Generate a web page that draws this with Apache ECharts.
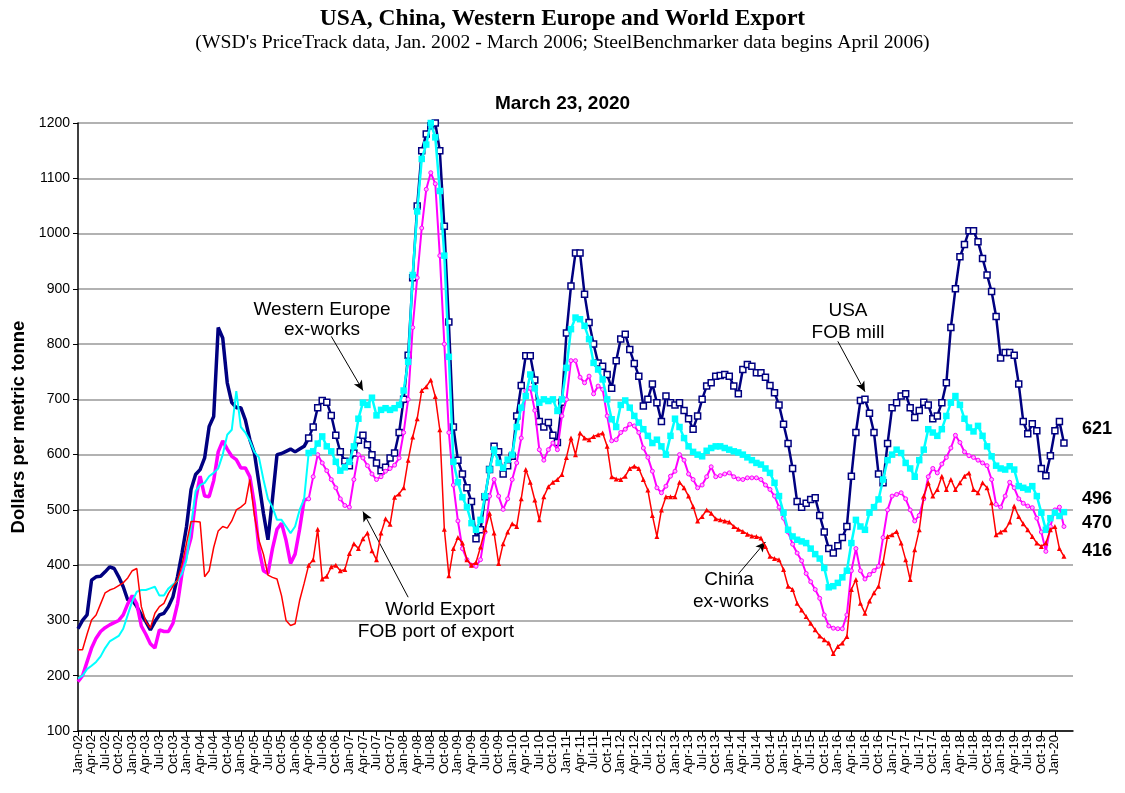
<!DOCTYPE html>
<html>
<head>
<meta charset="utf-8">
<script src="https://cdn.jsdelivr.net/npm/echarts@6/dist/echarts.min.js"></script>
<style>
html, body { margin: 0; padding: 0; background: #fff; }
#main { width: 1125px; height: 793px; }
</style>
</head>
<body>
<div id="main"></div>
<script>
// monthly prices, Jan-02 .. Mar-20 (US$ per metric tonne)
var monthNames = ['Jan','Feb','Mar','Apr','May','Jun','Jul','Aug','Sep','Oct','Nov','Dec'];
var firstYear = 2002;
var lastYear = 2020;
var lastMonth = 3;          // data ends March 2020
var steelBenchmarkerStart = 51;  // Apr-06, index where the marked series begin

var usa = [
  285, 300, 310, 373, 379, 380, 388, 397, 394, 379, 361, 337,
  337, 325, 310, 298, 283, 298, 310, 313, 325, 343, 379, 422,
  470, 537, 564, 573, 594, 651, 669, 830, 811, 730, 694, 685,
  685, 663, 627, 603, 549, 494, 446, 520, 600, 602, 606, 610,
  605, 610, 615, 630, 650, 685, 698, 695, 671, 635, 605, 588,
  580, 603, 626, 635, 618, 600, 585, 571, 577, 594, 603, 640,
  700, 780, 920, 1050, 1150, 1180, 1195, 1200, 1150, 1013, 840, 650,
  590, 565, 540, 515, 448, 464, 524, 573, 615, 605, 565, 580,
  597, 670, 725, 779, 779, 735, 660, 650, 658, 635, 622, 695,
  820, 905, 965, 965, 890, 839, 800, 766, 760, 745, 720, 770,
  809, 818, 790, 765, 742, 688, 700, 728, 694, 660, 706, 694,
  690, 694, 680, 665, 646, 670, 700, 724, 730, 742, 743, 745,
  742, 724, 710, 754, 763, 760, 748, 748, 740, 725, 712, 690,
  655, 620, 575, 515, 505, 512, 519, 522, 490, 460, 430, 422,
  435, 450, 470, 561, 640, 698, 700, 675, 640, 565, 549, 620,
  685, 694, 706, 710, 685, 667, 680, 695, 690, 665, 670, 694,
  730, 830, 900, 958, 980, 1005, 1005, 985, 955, 925, 895, 850,
  775, 785, 785, 780, 728, 660, 638, 656, 643, 575, 562, 598,
  643, 660, 621
];

var westernEurope = [
  195, 200, 212, 218, 225, 235, 250, 262, 267, 272, 285, 310,
  335, 352, 355, 355, 358, 361, 345, 345, 358, 365, 372, 385,
  410, 470, 534, 545, 549, 561, 567, 575, 600, 636, 645, 715,
  650, 640, 625, 605, 595, 555, 520, 505, 482, 482, 470, 458,
  470, 500, 520, 603, 606, 620, 633, 615, 606, 587, 571, 577,
  587, 615, 665, 694, 690, 703, 671, 681, 684, 681, 684, 690,
  716, 768, 925, 1040, 1135, 1161, 1200, 1174, 1077, 960, 777, 587,
  550, 523, 505, 476, 464, 482, 525, 573, 609, 585, 576, 591,
  600, 650, 685, 706, 745, 720, 694, 700, 697, 700, 679, 700,
  757, 827, 848, 845, 833, 809, 766, 754, 736, 700, 664, 650,
  690, 698, 685, 670, 658, 646, 634, 621, 627, 615, 600, 634,
  665, 650, 630, 615, 605, 600, 597, 607, 612, 615, 615, 612,
  609, 606, 604, 600, 595, 590, 585, 582, 575, 567, 549, 525,
  495, 464, 452, 446, 443, 440, 430, 420, 412, 395, 360, 362,
  368, 378, 390, 440, 482, 470, 464, 495, 505, 519, 555, 590,
  600, 609, 603, 585, 575, 560, 590, 609, 646, 640, 634, 646,
  670, 694, 706, 690, 665, 649, 642, 652, 634, 615, 597, 580,
  575, 573, 579, 573, 543, 540, 537, 543, 525, 495, 464, 485,
  495, 489, 496
];

var worldExport = [
  189, 200, 225, 250, 268, 280, 287, 292, 296, 300, 310, 330,
  345, 330, 290, 275, 258, 250, 283, 280, 280, 295, 330, 385,
  420, 450, 518, 561, 525, 524, 553, 605, 625, 610, 597, 591,
  576, 576, 560, 510, 430, 390, 385, 430, 465, 476, 445, 403,
  420, 465, 518, 520, 560, 600, 585, 571, 555, 540, 520, 508,
  505, 555, 600, 594, 580, 565, 555, 560, 570, 575, 581, 594,
  640, 700, 830, 920, 1010, 1080, 1110, 1090, 960, 800, 640, 545,
  480, 430, 410, 400, 398, 410, 460, 525, 555, 525, 501, 520,
  555, 585, 630, 715, 720, 680, 609, 590, 609, 621, 609, 670,
  700, 770, 770, 740, 730, 742, 710, 724, 718, 670, 625, 627,
  640, 646, 655, 652, 640, 612, 595, 570, 540, 531, 543, 561,
  570, 600, 590, 565, 555, 540, 545, 560, 578, 560, 562, 565,
  567, 560, 556, 555, 558, 558, 558, 555, 545, 537, 525, 505,
  485, 460, 438, 422, 408, 385, 370, 356, 340, 310, 290, 286,
  285, 285, 310, 390, 430, 390, 375, 383, 390, 398, 450, 500,
  525, 528, 531, 520, 500, 480, 490, 520, 560, 575, 567, 583,
  595, 612, 635, 622, 605, 598, 595, 590, 585, 580, 555, 510,
  505, 525, 550, 540, 520, 512, 507, 504, 485, 460, 425, 470,
  500, 505, 470
];

var china = [
  247, 247, 275, 301, 310, 330, 350, 355, 358, 363, 368, 377,
  390, 394, 325, 298, 286, 313, 325, 331, 349, 362, 373, 401,
  440, 479, 479, 478, 379, 390, 432, 462, 470, 467, 480, 500,
  505, 512, 555, 490, 445, 420, 382, 378, 375, 345, 300, 291,
  294, 336, 367, 400, 410, 465, 375, 380, 397, 400, 390, 392,
  421, 439, 430, 448, 458, 426, 410, 458, 484, 474, 523, 529,
  540, 590, 632, 665, 716, 723, 735, 705, 645, 465, 381, 430,
  450, 440, 410, 400, 405, 433, 464, 494, 458, 403, 439, 460,
  475, 470, 520, 573, 550, 518, 482, 524, 542, 550, 555, 564,
  595, 630, 600, 639, 630, 627, 633, 636, 639, 615, 560, 556,
  555, 561, 575, 579, 575, 555, 536, 490, 452, 500, 524, 524,
  524, 550, 540, 525, 506, 480, 488, 500, 494, 484, 482, 480,
  478, 470, 465, 461, 456, 453, 452, 449, 434, 416, 412, 410,
  392, 362, 356, 331, 319, 307, 295, 283, 272, 265, 259, 240,
  253, 259, 271, 356, 374, 331, 313, 335, 350, 362, 404, 452,
  455, 461, 440, 410, 374, 428, 464, 525, 549, 525, 537, 561,
  537, 555, 537, 549, 561, 567, 537, 531, 549, 540, 513, 455,
  460, 464, 478, 507, 488, 475, 464, 452, 440, 434, 440, 464,
  470, 430, 416
];

var yTicks = [100, 1200, 100]; // min, max, step

// month labels like "Jan-02"; one extra slot so the axis runs a little past the last point
var categories = [];
for (var y = firstYear; y <= lastYear; y++) {
  for (var m = 0; m < 12; m++) {
    if (y === lastYear && m > lastMonth) break;
    categories.push(monthNames[m] + '-' + String(y).slice(2));
  }
}
var nData = usa.length;

function part(arr, from, to) {
  return arr.map(function (v, i) { return (i >= from && i <= to) ? v : null; });
}

function quarterly(index) {
  return index % 3 === 0 && index < nData;
}

var NAVY = '#000080', CYAN = '#00FFFF', MAGENTA = '#FF00FF', RED = '#FF0000';
var endFont = { show: true, fontSize: 18, fontWeight: 'bold', color: '#000', fontFamily: 'Liberation Sans',
  formatter: function (p) { return p.value; } };

function arrow(x1, y1, x2, y2) {
  return [
    { coord: [categories[x1], y1], symbol: 'none' },
    { coord: [categories[x2], y2], symbol: 'arrow', symbolSize: [7, 10] }
  ];
}

function note(text, x, y) {
  return {
    type: 'text', x: x, y: y,
    style: { text: text, fontFamily: 'Liberation Sans', fontSize: 19, fill: '#000',
      align: 'center', verticalAlign: 'middle' }
  };
}

var myChart = echarts.init(document.getElementById('main'));

var option = {
  animation: false,
  backgroundColor: '#fff',
  title: [
    {
      text: 'USA, China, Western Europe and World Export',
      left: 'center', top: 2,
      textStyle: { fontFamily: 'Liberation Serif', fontWeight: 'bold', fontSize: 23.5, color: '#000' }
    },
    {
      text: "(WSD's PriceTrack data, Jan. 2002 - March 2006; SteelBenchmarker data begins April 2006)",
      left: 'center', top: 28,
      textStyle: { fontFamily: 'Liberation Serif', fontWeight: 'normal', fontSize: 19.7, color: '#000' }
    },
    {
      text: 'March 23, 2020',
      left: 'center', top: 89,
      textStyle: { fontFamily: 'Liberation Sans', fontWeight: 'bold', fontSize: 19, color: '#000' }
    }
  ],
  grid: { left: 78, right: 52, top: 123, bottom: 62 },
  xAxis: {
    type: 'category',
    boundaryGap: false,
    data: categories.concat(['']),
    axisLine: { lineStyle: { color: '#000', width: 1.5 } },
    axisTick: { interval: quarterly, length: 5, lineStyle: { color: '#000' } },
    axisLabel: {
      interval: quarterly, rotate: 90, margin: 4, lineHeight: 11,
      fontFamily: 'Liberation Sans', fontSize: 13, color: '#000'
    },
    splitLine: { show: false }
  },
  yAxis: {
    type: 'value',
    min: yTicks[0], max: yTicks[1], interval: yTicks[2],
    name: 'Dollars per metric tonne',
    nameLocation: 'middle', nameGap: 50,
    nameTextStyle: { fontFamily: 'Liberation Sans', fontWeight: 'bold', fontSize: 18.5, color: '#000' },
    axisLine: { show: true, lineStyle: { color: '#000', width: 1.5 } },
    axisTick: { show: true, length: 5, lineStyle: { color: '#000' } },
    axisLabel: { fontFamily: 'Liberation Sans', fontSize: 14, color: '#000', margin: 8,
      formatter: function (v) { return String(v); } },
    splitLine: { lineStyle: { color: '#999', width: 1.5 } }
  },
  series: [
    {
      name: 'USA', type: 'line', data: part(usa, 0, steelBenchmarkerStart),
      symbol: 'none', lineStyle: { color: NAVY, width: 3.5 }, z: 2
    },
    {
      name: 'USA', type: 'line', data: part(usa, steelBenchmarkerStart, nData - 1),
      symbol: 'rect', symbolSize: 6, showAllSymbol: true,
      itemStyle: { color: '#fff', borderColor: NAVY, borderWidth: 1.5 },
      lineStyle: { color: NAVY, width: 2.5 }, z: 2,
      endLabel: Object.assign({ offset: [10, -14] }, endFont)
    },
    {
      name: 'World Export', type: 'line', data: part(worldExport, 0, steelBenchmarkerStart),
      symbol: 'none', lineStyle: { color: MAGENTA, width: 3.5 }, z: 3
    },
    {
      name: 'World Export', type: 'line', data: part(worldExport, steelBenchmarkerStart, nData - 1),
      symbol: 'circle', symbolSize: 4, showAllSymbol: true,
      itemStyle: { color: '#ffb0ff', borderColor: MAGENTA, borderWidth: 1 },
      lineStyle: { color: MAGENTA, width: 2 }, z: 3,
      endLabel: Object.assign({ offset: [10, -3] }, endFont)
    },
    {
      name: 'Western Europe', type: 'line', data: part(westernEurope, 0, steelBenchmarkerStart),
      symbol: 'none', lineStyle: { color: CYAN, width: 2 }, z: 4
    },
    {
      name: 'Western Europe', type: 'line', data: part(westernEurope, steelBenchmarkerStart, nData - 1),
      symbol: 'rect', symbolSize: 6.5, showAllSymbol: true,
      itemStyle: { color: CYAN, borderColor: CYAN, borderWidth: 0 },
      lineStyle: { color: CYAN, width: 2.5 }, z: 4,
      endLabel: Object.assign({ offset: [10, -13] }, endFont)
    },
    {
      name: 'China', type: 'line', data: part(china, 0, steelBenchmarkerStart),
      symbol: 'none', lineStyle: { color: RED, width: 1.5 }, z: 5
    },
    {
      name: 'China', type: 'line', data: part(china, steelBenchmarkerStart, nData - 1),
      symbol: 'triangle', symbolSize: 5, showAllSymbol: true,
      itemStyle: { color: RED },
      lineStyle: { color: RED, width: 1.5 }, z: 5,
      endLabel: Object.assign({ offset: [10, -5] }, endFont),
      markLine: {
        silent: true, animation: false,
        lineStyle: { color: '#000', width: 1, type: 'solid' },
        label: { show: false },
        data: [
          arrow(56, 814, 63, 716),
          arrow(73, 342, 63, 497),
          arrow(146, 384, 152, 442),
          arrow(168, 805, 174, 714)
        ]
      }
    }
  ],
  graphic: [
    note('Western Europe', 322, 310),
    note('ex-works', 322, 330),
    note('World Export', 440, 610),
    note('FOB port of export', 436, 632),
    note('China', 729, 580),
    note('ex-works', 731, 602),
    note('USA', 848, 311),
    note('FOB mill', 848, 333)
  ]
};

myChart.setOption(option);
</script>
</body>
</html>
